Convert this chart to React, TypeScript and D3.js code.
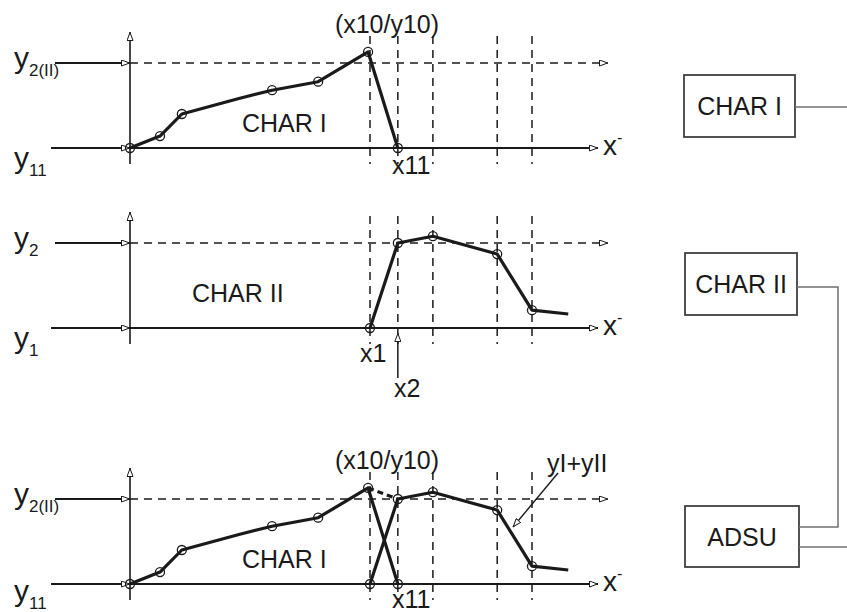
import React from 'react';
import * as d3 from 'd3';

// ---- data ----
const gridX = [50, 55.8, 63.1, 76.5, 83.75];
const charIX = [0, 6.25, 10.8, 22.5, 29.6, 39.2, 49.6, 55.8];
const charIY = [0, 14, 40, 58, 68, 78, 113, 0];
const charIMark = [1, 1, 1, 0, 1, 1, 1, 1];
const charIIX = [50, 55.8, 63.1, 76.5, 83.75, 91.3];
const charIIY = [0, 100, 108, 87, 21, 16.5];
const charIIMark = [1, 1, 1, 1, 1, 0];
const panelLabels = ['CHAR I', 'CHAR II', 'CHAR I'];
const topLevelSub = ['2(II)', '2', '2(II)'];
const baseLevelSub = ['11', '1', '11'];
const blockLabels = ['CHAR I', 'CHAR II', 'ADSU'];

const INK = '#1a1a1a';
const FONT = '"Liberation Sans", Arial, Helvetica, sans-serif';

const x = d3.scaleLinear().domain([0, 100]).range([130, 610]);
const bases = [148, 328, 584];

function zip(xs: number[], ys: number[]): [number, number][] {
  return xs.map((v, i) => [v, ys[i]] as [number, number]);
}

function Curve({ xs, ys, marks, y }: { xs: number[]; ys: number[]; marks: number[]; y: d3.ScaleLinear<number, number> }) {
  const line = d3.line<[number, number]>().x(d => x(d[0])).y(d => y(d[1]));
  const pts = zip(xs, ys);
  return (
    <g>
      <path d={line(pts) || ''} fill="none" stroke={INK} strokeWidth={3.2} strokeLinejoin="round" />
      {pts.map((p, i) => marks[i] ? (
        <circle key={i} cx={x(p[0])} cy={y(p[1])} r={4.5} fill="none" stroke={INK} strokeWidth={1.3} />
      ) : null)}
    </g>
  );
}

function Panel({ idx }: { idx: number }) {
  const base = bases[idx];
  const y = d3.scaleLinear().domain([0, 100]).range([base, base - 85]);
  const y0 = y(0);
  const y2 = y(100);
  const x0 = x(0);
  const last = idx === 2;
  return (
    <g>
      {/* dashed verticals */}
      {gridX.map((g, i) => (
        <line key={i} x1={x(g)} x2={x(g)} y1={base - 112} y2={base + 16} stroke={INK} strokeWidth={1.5} strokeDasharray="8,6" />
      ))}
      {/* y2 dashed level */}
      <line x1={x0} x2={608} y1={y2} y2={y2} stroke={INK} strokeWidth={1.5} strokeDasharray="8,6" markerEnd="url(#arr)" />
      {/* vertical axis */}
      <line x1={x0} x2={x0} y1={base + 16} y2={base - 116} stroke={INK} strokeWidth={1.6} markerEnd="url(#arr)" />
      {/* baseline axis */}
      <line x1={x0} x2={598} y1={y0} y2={y0} stroke={INK} strokeWidth={1.8} markerEnd="url(#arr)" />
      {/* left input lines */}
      <line x1={55} x2={x0} y1={y2} y2={y2} stroke={INK} strokeWidth={1.8} markerEnd="url(#arr)" />
      <line x1={51} x2={x0} y1={y0} y2={y0} stroke={INK} strokeWidth={1.8} markerEnd="url(#arr)" />
      {/* x- label */}
      <text x={603} y={y0 + 7} fontSize={28} fontFamily={FONT} fill={INK}>x<tspan fontSize={16} dy={-12}>-</tspan></text>
      {/* left level labels */}
      <text x={14} y={y2 + 5} fontSize={30} fontFamily={FONT} fill={INK}>y<tspan fontSize={17} dy={8}>{topLevelSub[idx]}</tspan></text>
      <text x={14} y={y0 + (last ? 17 : 20)} fontSize={30} fontFamily={FONT} fill={INK}>y<tspan fontSize={17} dy={last ? 8 : 8}>{baseLevelSub[idx]}</tspan></text>
      {/* panel label */}
      <text x={idx === 1 ? 192 : 242} y={idx === 1 ? base - 26 : base - 16} fontSize={25} fontFamily={FONT} fill={INK}>{panelLabels[idx]}</text>

      {idx !== 1 && (
        <g>
          <text x={387} y={base - 115} textAnchor="middle" fontSize={25} fontFamily={FONT} fill={INK}>(x10/y10)</text>
          <text x={392} y={base + (last ? 24 : 26)} fontSize={25} fontFamily={FONT} fill={INK}>x11</text>
        </g>
      )}
      {idx === 1 && (
        <g>
          <text x={360} y={base + 34} fontSize={25} fontFamily={FONT} fill={INK}>x1</text>
          <line x1={x(charIIX[1])} x2={x(charIIX[1])} y1={base + 50} y2={base + 5} stroke={INK} strokeWidth={1.5} markerEnd="url(#arr)" />
          <text x={394} y={base + 69} fontSize={25} fontFamily={FONT} fill={INK}>x2</text>
        </g>
      )}

      {idx !== 1 && <Curve xs={charIX} ys={charIY} marks={charIMark} y={y} />}
      {idx !== 0 && <Curve xs={charIIX} ys={charIIY} marks={charIIMark} y={y} />}
      {idx === 2 && (
        <g>
          <line x1={x(charIX[6])} y1={y(charIY[6])} x2={x(charIIX[1])} y2={y(charIIY[1])} stroke={INK} strokeWidth={3.2} strokeDasharray="6,4" />
          <text x={547} y={base - 112} fontSize={25} fontFamily={FONT} fill={INK}>yI+yII</text>
          <line x1={558} y1={base - 111} x2={513} y2={base - 57} stroke={INK} strokeWidth={1.4} markerEnd="url(#arr)" />
        </g>
      )}
    </g>
  );
}

export default function App() {
  const boxes = [
    { x: 684, y: 75, w: 111, h: 62 },
    { x: 685, y: 253, w: 112, h: 62 },
    { x: 685, y: 506, w: 114, h: 61 },
  ];
  const BOX = '#404040';
  const WIRE = '#707070';
  return (
    <svg width={847} height={612} style={{ position: 'absolute', left: 0, top: 0, background: '#fff' }}>
      <defs>
        <marker id="arr" viewBox="0 0 9 7" refX={9} refY={3.5} markerWidth={9} markerHeight={7} markerUnits="userSpaceOnUse" orient="auto">
          <path d="M0.5,0.5 L8.5,3.5 L0.5,6.5 Z" fill="#fff" stroke={INK} strokeWidth={1} />
        </marker>
      </defs>
      <rect x={0} y={0} width={847} height={612} fill="#fff" />
      {[0, 1, 2].map(i => <Panel key={i} idx={i} />)}
      {boxes.map((b, i) => (
        <g key={i}>
          <rect x={b.x} y={b.y} width={b.w} height={b.h} fill="#fff" stroke={BOX} strokeWidth={1.8} />
          <text x={b.x + b.w / 2} y={b.y + b.h / 2 + 9} textAnchor="middle" fontSize={25} fontFamily={FONT} fill={INK}>{blockLabels[i]}</text>
        </g>
      ))}
      {/* wiring */}
      <line x1={795} x2={847} y1={107} y2={107} stroke={WIRE} strokeWidth={1.5} />
      <polyline points="797,287 838,287 838,527 799,527" fill="none" stroke={WIRE} strokeWidth={1.5} />
      <line x1={799} x2={847} y1={547} y2={547} stroke={WIRE} strokeWidth={1.5} />
    </svg>
  );
}
